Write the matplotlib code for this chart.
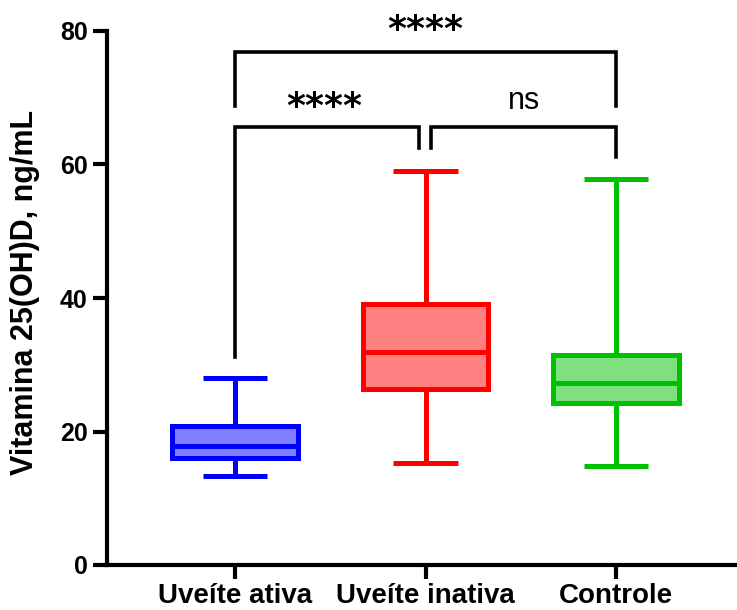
import matplotlib
matplotlib.use("Agg")
import matplotlib.pyplot as plt

# summary values (min / Q1 / median / Q3 / max)
groups = ["Uveíte ativa", "Uveíte inativa", "Controle"]
whislo = [13.3, 15.3, 14.8]
q1 = [16.0, 26.4, 24.3]
med = [17.8, 31.9, 27.3]
q3 = [20.8, 39.1, 31.5]
whishi = [28.0, 59.0, 57.8]

edge_colors = ["#0000FF", "#FF0000", "#00C000"]
face_colors = ["#8080FF", "#FF8080", "#80E080"]

plt.rcParams["font.family"] = ["Liberation Sans", "DejaVu Sans"]

fig = plt.figure(figsize=(7.37, 6.10), dpi=100)
ax = fig.add_axes([107 / 737, 45 / 610, 630 / 737, 534 / 610])

stats = []
for i, name in enumerate(groups):
    stats.append({"label": name, "whislo": whislo[i], "q1": q1[i], "med": med[i],
                  "q3": q3[i], "whishi": whishi[i], "fliers": []})

lw = 3.6
bp = ax.bxp(stats, positions=range(len(groups)), widths=0.66, capwidths=0.34,
            patch_artist=True, showfliers=False)

for i in range(len(groups)):
    c = edge_colors[i]
    box = bp["boxes"][i]
    box.set_facecolor(face_colors[i])
    box.set_edgecolor(c)
    box.set_linewidth(lw)
    box.set_joinstyle("miter")
    bp["medians"][i].set_color(c)
    bp["medians"][i].set_linewidth(lw)
    for art in bp["whiskers"][2 * i:2 * i + 2] + bp["caps"][2 * i:2 * i + 2]:
        art.set_color(c)
        art.set_linewidth(lw)
        art.set_solid_capstyle("butt")


def bracket(x1, x2, y, y1, y2, text, tx, ty, **kw):
    ax.plot([x1, x1, x2, x2], [y1, y, y, y2], color="black", lw=2.6,
            solid_joinstyle="miter", clip_on=False)
    ax.text(tx, ty, text, ha="center", va="center", clip_on=False, **kw)


star_kw = dict(fontsize=26, fontweight="bold", family="DejaVu Sans")
bracket(0, 2, 76.9, 68.8, 68.8, "****", 1.0, 80.2, **star_kw)
bracket(0, 0.966, 65.6, 31.2, 62.5, "****", 0.47, 68.6, **star_kw)
bracket(1.03, 2, 65.6, 62.5, 61.1, "ns", 1.52, 69.5, fontsize=22)

ax.set_xlim(-0.672, 2.635)
ax.set_ylim(0, 80)
ax.set_yticks([0, 20, 40, 60, 80])
ax.set_xticks(range(len(groups)))
ax.set_xticklabels(groups, fontsize=20, fontweight="bold")
for lab in ax.get_yticklabels():
    lab.set_fontsize(18)
    lab.set_fontweight("bold")

for side in ["top", "right"]:
    ax.spines[side].set_visible(False)
for side in ["left", "bottom"]:
    ax.spines[side].set_linewidth(3)
ax.spines["left"].set_bounds(0, 80)
ax.tick_params(width=3, length=10, pad=4)
ax.tick_params(axis="x", pad=3)

ax.set_ylabel("Vitamina 25(OH)D, ng/mL", fontsize=22, fontweight="bold")
ax.yaxis.set_label_coords(-0.106, 0.51)

fig.savefig("out.png", dpi=100)
